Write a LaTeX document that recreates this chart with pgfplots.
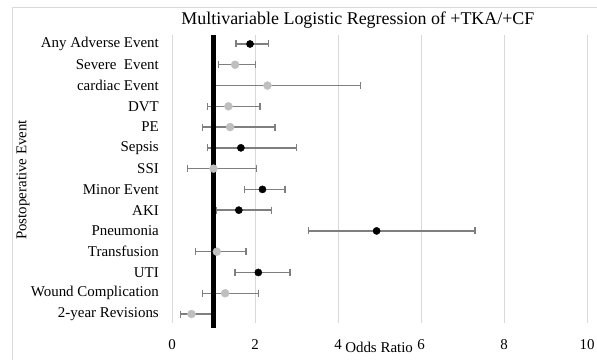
\documentclass[border=0pt]{standalone}
\usepackage{pgfplots}
\usepackage{pgfplotstable}
\usepackage{fontspec}
\setmainfont{Liberation Serif}
\pgfplotsset{compat=1.18}
\definecolor{gridc}{HTML}{D9D9D9}
\definecolor{errc}{HTML}{7F7F7F}
\definecolor{greydot}{HTML}{BFBFBF}

\pgfplotstableread{
row or lo hi
14 1.88 1.54 2.33
9 1.66 0.86 3.00
7 2.18 1.74 2.72
6 1.61 1.08 2.39
5 4.93 3.29 7.30
3 2.08 1.52 2.84
}\blackdata
\pgfplotstableread{
row or lo hi
13 1.52 1.12 2.01
12 2.30 1.00 4.55
11 1.36 0.85 2.12
10 1.40 0.73 2.48
8 1.00 0.38 2.04
4 1.08 0.57 1.78
2 1.28 0.73 2.08
1 0.47 0.21 0.95
}\greydata

\begin{document}
\begin{tikzpicture}
\useasboundingbox (0,0) rectangle (597bp,360bp);
\draw[gridc, line width=0.8bp] (12bp,0) -- (12bp,353bp) -- (597bp,353bp);
\begin{axis}[
  at={(172bp,37bp)}, anchor=south west,
  scale only axis, width=415bp, height=288bp,
  xmin=0, xmax=10, ymin=0.567, ymax=14.433,
  xtick={0,2,4,6,8,10},
  ytick={1,...,14},
  yticklabels={2-year Revisions, Wound Complication, UTI, Transfusion, Pneumonia, AKI, Minor Event, SSI, Sepsis, PE, DVT, cardiac Event, Severe\ \ Event, Any Adverse Event},
  major tick length=0pt,
  axis line style={draw=none},
  xmajorgrids, grid style={gridc, line width=0.9bp},
  ticklabel style={font=\fontsize{15}{18}\selectfont},
  /pgf/number format/assume math mode=true,
  xticklabel style={inner sep=0pt, yshift=-16bp},
  yticklabel style={inner sep=0pt, xshift=-13bp},
  title={Multivariable Logistic Regression of +TKA/+CF},
  title style={font=\fontsize{18}{21}\selectfont, at={(rel axis cs:0.448,1.017)}, anchor=base, inner sep=0pt},
  xlabel={Odds Ratio},
  xlabel style={font=\fontsize{15}{18}\selectfont, at={(rel axis cs:0.499,-0.104)}, anchor=base, inner sep=0pt},
  ylabel={Postoperative Event},
  ylabel style={font=\fontsize{15}{18}\selectfont, at={(rel axis cs:-0.359,0.497)}, anchor=center, inner sep=0pt, rotate=0},
  clip=false,
]
\addplot[only marks, mark=*, mark size=3.6bp, mark options={draw=black, fill=black},
  error bars/.cd, x dir=both, x explicit,
  error bar style={errc, line width=1.4bp},
  error mark options={errc, line width=1.3bp, mark size=3.5bp, rotate=90}]
  table[x=or, y=row, x error plus expr=\thisrow{hi}-\thisrow{or}, x error minus expr=\thisrow{or}-\thisrow{lo}] {\blackdata};
\addplot[only marks, mark=*, mark size=4bp, mark options={draw=greydot, fill=greydot},
  error bars/.cd, x dir=both, x explicit,
  error bar style={errc, line width=1.4bp},
  error mark options={errc, line width=1.3bp, mark size=3.5bp, rotate=90}]
  table[x=or, y=row, x error plus expr=\thisrow{hi}-\thisrow{or}, x error minus expr=\thisrow{or}-\thisrow{lo}] {\greydata};
\addplot[black, line width=5.5bp, no marks] coordinates {(1,0.326) (1,14.433)};
\end{axis}
\end{tikzpicture}
\end{document}
